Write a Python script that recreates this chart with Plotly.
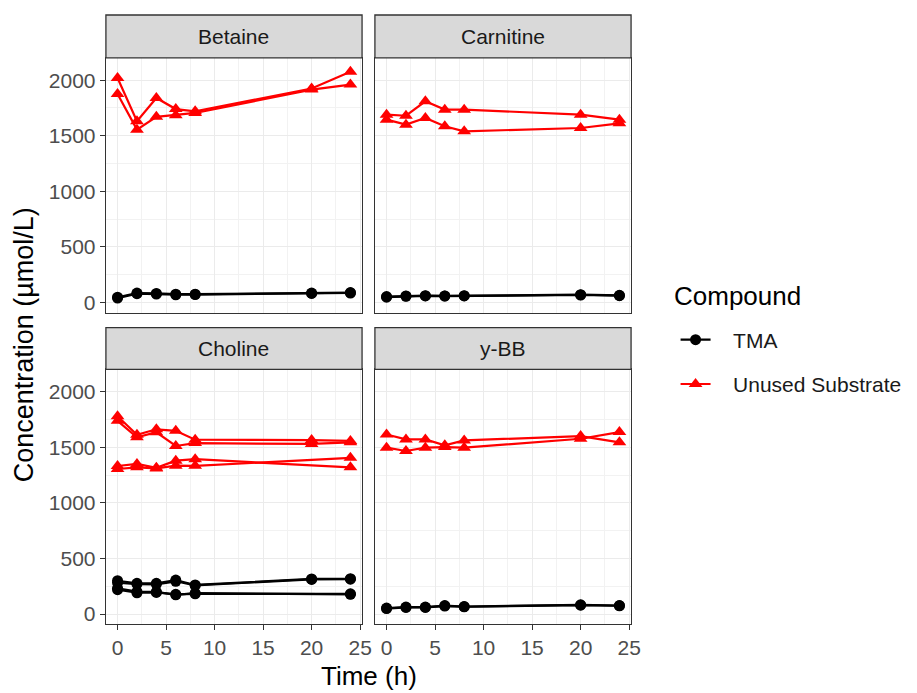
import plotly.graph_objects as go

# ---------------- data ----------------
time_h = [0, 2, 4, 6, 8, 20, 24]
panels = ["Betaine", "Carnitine", "Choline", "y-BB"]

betaine_substrate = [
    [2020, 1630, 1840, 1740, 1720, 1925, 2075],
    [1875, 1555, 1670, 1685, 1705, 1915, 1960],
]
betaine_tma = [
    [48, 85, 82, 75, 75, 85, 90],
    [40, 80, 76, 70, 72, 82, 86],
]
carnitine_substrate = [
    [1690, 1680, 1810, 1735, 1735, 1690, 1645],
    [1645, 1600, 1660, 1585, 1540, 1570, 1612],
]
carnitine_tma = [
    [54, 60, 62, 60, 62, 71, 65],
    [48, 56, 60, 58, 60, 68, 62],
]
choline_substrate = [
    [1780, 1612, 1662, 1648, 1568, 1565, 1557],
    [1738, 1590, 1635, 1512, 1538, 1530, 1545],
    [1332, 1350, 1315, 1380, 1393, None, 1320],
    [1305, 1320, 1310, 1335, 1333, None, 1405],
]
choline_tma = [
    [300, 277, 277, 306, 262, 316, 318],
    [282, 270, 268, 295, 258, 312, 314],
    [232, 202, 200, 173, 188, None, 178],
    [220, 192, 195, 178, 182, None, 182],
]
ybb_substrate = [
    [1615, 1571, 1571, 1518, 1562, 1601, 1545],
    [1497, 1467, 1497, 1502, 1497, 1577, 1637],
]
ybb_tma = [
    [54, 63, 63, 77, 68, 83, 77],
    [50, 60, 60, 72, 66, 80, 75],
]

substrate_data = [betaine_substrate, carnitine_substrate, choline_substrate, ybb_substrate]
tma_data = [betaine_tma, carnitine_tma, choline_tma, ybb_tma]

x_ticks = [0, 5, 10, 15, 20, 25]
y_ticks = [0, 500, 1000, 1500, 2000]

# ---------------- layout geometry (target page pixels) ----------------
OFF = 8                      # page body margin
W, H = 917 - OFF, 693 - OFF  # figure size
col_px = [(107, 366), (379, 638)]
row_plot_px = [(58, 313), (370, 625)]
row_strip_px = [(15, 58), (328, 370)]

def fx(p):
    return (p - OFF) / W

def fy(p):
    return 1 - (p - OFF) / H

FONT = "Liberation Sans, Arial, sans-serif"
RED = "#FF0000"
BLACK = "#000000"
NB = "\u00a0\u00a0\u00a0"

fig = go.Figure()

shown = {"TMA": False, "Unused Substrate": False}
for i, name in enumerate(panels):
    ax = "" if i == 0 else str(i + 1)
    for series_list, label, color, symbol, msize in [
        (tma_data[i], "TMA", BLACK, "circle", 11),
        (substrate_data[i], "Unused Substrate", RED, "triangle-up", 12),
    ]:
        for s in series_list:
            fig.add_trace(go.Scatter(
                x=time_h, y=s, mode="lines+markers",
                line=dict(color=color, width=2.2),
                marker=dict(color=color, symbol=symbol, size=msize),
                connectgaps=True,
                name=NB + label, legendgroup=label,
                showlegend=not shown[label],
                xaxis="x" + ax, yaxis="y" + ax,
            ))
            shown[label] = True

layout = dict(
    width=W, height=H,
    margin=dict(l=0, r=0, t=0, b=0),
    paper_bgcolor="white", plot_bgcolor="white",
    font=dict(family=FONT, color="#000000"),
    showlegend=True,
    legend=dict(
        x=fx(683), y=fy(320), xanchor="left", yanchor="top",
        font=dict(size=21, color="#1A1A1A"),
        traceorder="grouped", tracegroupgap=14,
        bgcolor="rgba(0,0,0,0)",
    ),
)

shapes = []
annotations = []
for i, name in enumerate(panels):
    r, c = divmod(i, 2)
    ax = "" if i == 0 else str(i + 1)
    x0, x1 = col_px[c]
    yt, yb = row_plot_px[r]
    xa = dict(
        domain=[fx(x0), fx(x1)], anchor="y" + ax,
        range=[-1.2, 25.2], tickvals=x_ticks,
        showticklabels=(r == 1), ticks="outside" if r == 1 else "",
        ticklen=5, tickwidth=1.2, tickcolor="#333333",
        tickfont=dict(size=21, color="#4D4D4D", family=FONT),
        showgrid=True, gridcolor="#EBEBEB", gridwidth=1.3,
        minor=dict(dtick=2.5, tick0=0, showgrid=True, gridcolor="#F2F2F2", gridwidth=0.9, ticks=""),
        showline=True, mirror=True, linecolor="#333333", linewidth=1.3,
        zeroline=False, fixedrange=True,
    )
    ya = dict(
        domain=[fy(yb), fy(yt)], anchor="x" + ax,
        range=[-90, 2200], tickvals=y_ticks,
        showticklabels=(c == 0), ticks="outside" if c == 0 else "",
        ticklen=5, tickwidth=1.2, tickcolor="#333333",
        tickfont=dict(size=21, color="#4D4D4D", family=FONT),
        showgrid=True, gridcolor="#EBEBEB", gridwidth=1.3,
        minor=dict(dtick=250, tick0=0, showgrid=True, gridcolor="#F2F2F2", gridwidth=0.9, ticks=""),
        showline=True, mirror=True, linecolor="#333333", linewidth=1.3,
        zeroline=False, fixedrange=True,
    )
    layout["xaxis" + ax] = xa
    layout["yaxis" + ax] = ya

    st, sb = row_strip_px[r]
    shapes.append(dict(
        type="rect", xref="paper", yref="paper",
        x0=fx(x0), x1=fx(x1), y0=fy(sb), y1=fy(st),
        fillcolor="#D9D9D9", line=dict(color="#333333", width=1.3), layer="above",
    ))
    annotations.append(dict(
        text=name, xref="paper", yref="paper",
        x=fx((x0 + x1) / 2), y=fy((st + sb) / 2),
        xanchor="center", yanchor="middle", showarrow=False,
        font=dict(size=21, color="#1A1A1A", family=FONT),
    ))

annotations.append(dict(
    text="Concentration (µmol/L)", xref="paper", yref="paper",
    x=fx(24), y=fy(345), xanchor="center", yanchor="middle",
    textangle=-90, showarrow=False,
    font=dict(size=27, color="#000000", family=FONT),
))
annotations.append(dict(
    text="Time (h)", xref="paper", yref="paper",
    x=fx(373), y=fy(677), xanchor="center", yanchor="middle",
    showarrow=False,
    font=dict(size=26, color="#000000", family=FONT),
))
annotations.append(dict(
    text="Compound", xref="paper", yref="paper",
    x=fx(679), y=fy(296), xanchor="left", yanchor="middle",
    showarrow=False,
    font=dict(size=26, color="#000000", family=FONT),
))

layout["shapes"] = shapes
layout["annotations"] = annotations
fig.update_layout(**layout)

fig.write_html("out.html")
